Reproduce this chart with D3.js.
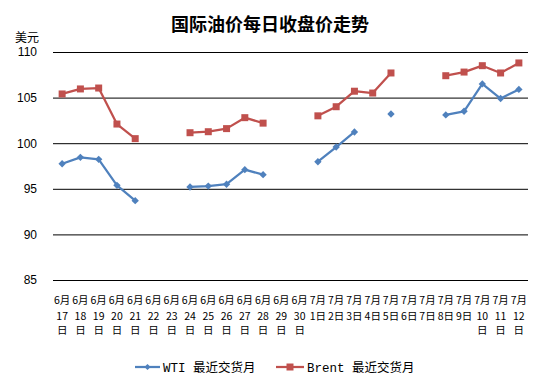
<!DOCTYPE html>
<html>
<head>
<meta charset="utf-8">
<script src="https://cdn.jsdelivr.net/npm/d3@7"></script>
<style>
body { margin: 0; background: #fff; }
svg { display: block; }
</style>
</head>
<body>
<script>
const w = 544;
const h = 384;

// * DATA
const dates = [
	"6月17日", "6月18日", "6月19日", "6月20日", "6月21日", "6月22日", "6月23日",
	"6月24日", "6月25日", "6月26日", "6月27日", "6月28日", "6月29日", "6月30日",
	"7月1日", "7月2日", "7月3日", "7月4日", "7月5日", "7月6日", "7月7日",
	"7月8日", "7月9日", "7月10日", "7月11日", "7月12日"
];
const wti = [
	97.75, 98.45, 98.23, 95.38, 93.7, null, null,
	95.2, 95.3, 95.5, 97.1, 96.55, null, null,
	97.97, 99.58, 101.23, null, 103.2, null, null,
	103.1, 103.5, 106.5, 104.9, 105.9
];
const brent = [
	105.4, 105.95, 106.05, 102.1, 100.5, null, null,
	101.15, 101.26, 101.6, 102.8, 102.2, null, null,
	103.0, 104.0, 105.7, 105.5, 107.7, null, null,
	107.4, 107.8, 108.5, 107.7, 108.8
];
const yTicks = [85, 90, 95, 100, 105, 110];
const seriesNames = ["WTI 最近交货月", "Brent 最近交货月"];

const margin = { top: 52, right: 16, bottom: 104, left: 53 };

const svg = d3.select("body")
	.append("svg")
	.attr("width", w)
	.attr("height", h);

// * SCALES
const xScale = d3.scaleBand()
	.domain(dates)
	.range([margin.left, w - margin.right]);
const yScale = d3.scaleLinear()
	.domain([85, 110])
	.range([h - margin.bottom, margin.top]);

// * TITLE
svg.append("text")
	.attr("x", 270)
	.attr("y", 31)
	.attr("text-anchor", "middle")
	.style("font-family", "'Noto Sans CJK SC', sans-serif")
	.style("font-weight", "bold")
	.style("font-size", "18px")
	.text("国际油价每日收盘价走势");

svg.append("text")
	.attr("x", 27)
	.attr("y", 42)
	.attr("text-anchor", "middle")
	.style("font-family", "'Noto Sans CJK SC', sans-serif")
	.style("font-size", "12px")
	.text("美元");

// * GRID + Y AXIS
const yAxis = d3.axisLeft(yScale)
	.tickValues(yTicks)
	.tickSize(-(w - margin.left - margin.right))
	.tickPadding(16);
svg.append("g")
	.attr("transform", "translate(" + margin.left + ",0)")
	.call(yAxis)
	.call((g) => g.select(".domain").remove())
	.call((g) => g.selectAll("line").attr("stroke", "#000").attr("stroke-width", 1))
	.call((g) => g.selectAll("text")
		.style("font-family", "'Liberation Sans', Arial, sans-serif")
		.style("font-size", "12px")
		.attr("fill", "#000"));

// * X AXIS (wrapped labels)
const xAxis = d3.axisBottom(xScale).tickSize(0).tickPadding(0);
const xg = svg.append("g")
	.attr("transform", "translate(0," + (h - margin.bottom) + ")")
	.call(xAxis);
xg.select(".domain").remove();
const maxW = xScale.bandwidth() - 0.5;
const rowY = [24, 39.5, 53.5];
xg.selectAll("text")
	.style("font-family", "'Noto Sans CJK SC', sans-serif")
	.style("font-size", "10.5px")
	.attr("fill", "#000")
	.attr("dy", null)
	.each(function (d) {
		const t = d3.select(this);
		const tokens = d.match(/\d+|[^\d]/g);
		t.text(null);
		const lines = [];
		let cur = "";
		const probe = t.append("tspan");
		tokens.forEach((tok) => {
			probe.text(cur + tok);
			if (cur && probe.node().getComputedTextLength() > maxW) {
				lines.push(cur);
				cur = tok;
			} else {
				cur += tok;
			}
		});
		lines.push(cur);
		probe.remove();
		lines.forEach((ln, i) => {
			t.append("tspan")
				.attr("x", 0)
				.attr("y", rowY[i])
				.text(ln);
		});
	});

// * LINES
const colors = ["#4F81BD", "#C0504D"];
const series = [wti, brent];
const cx = (i) => xScale(dates[i]) + xScale.bandwidth() / 2;
const line = d3.line()
	.defined((d) => d != null)
	.x((d, i) => cx(i))
	.y((d) => yScale(d));

series.forEach((vals, s) => {
	svg.append("path")
		.datum(vals)
		.attr("fill", "none")
		.attr("stroke", colors[s])
		.attr("stroke-width", 2.25)
		.attr("stroke-linejoin", "round")
		.attr("d", line);
	svg.selectAll(".pt" + s)
		.data(vals.map((v, i) => ({ v, i })).filter((d) => d.v != null))
		.enter()
		.append("path")
		.attr("class", "pt" + s)
		.attr("transform", (d) => "translate(" + cx(d.i) + "," + yScale(d.v) + ")" + (s === 0 ? " rotate(45)" : ""))
		.attr("d", s === 0 ? "M-2.6,-2.6H2.6V2.6H-2.6Z" : "M-3.5,-3.5H3.5V3.5H-3.5Z")
		.attr("fill", colors[s]);
});

// * LEGEND
const legendX = [135, 276];
seriesNames.forEach((name, s) => {
	const g = svg.append("g").attr("transform", "translate(" + legendX[s] + ",367)");
	g.append("line")
		.attr("x1", 0).attr("x2", s === 0 ? 25 : 28)
		.attr("stroke", colors[s]).attr("stroke-width", 2.25);
	const mx = s === 0 ? 12.5 : 14;
	g.append("path")
		.attr("transform", "translate(" + mx + ",0)" + (s === 0 ? " rotate(45)" : ""))
		.attr("d", s === 0 ? "M-2.2,-2.2H2.2V2.2H-2.2Z" : "M-3.5,-3.5H3.5V3.5H-3.5Z")
		.attr("fill", colors[s]);
	g.append("text")
		.attr("x", s === 0 ? 28 : 31)
		.attr("y", 4.5)
		.style("font-family", "'Liberation Mono', 'Noto Sans CJK SC', monospace")
		.style("font-size", "12.5px")
		.text(name);
});
</script>
</body>
</html>
